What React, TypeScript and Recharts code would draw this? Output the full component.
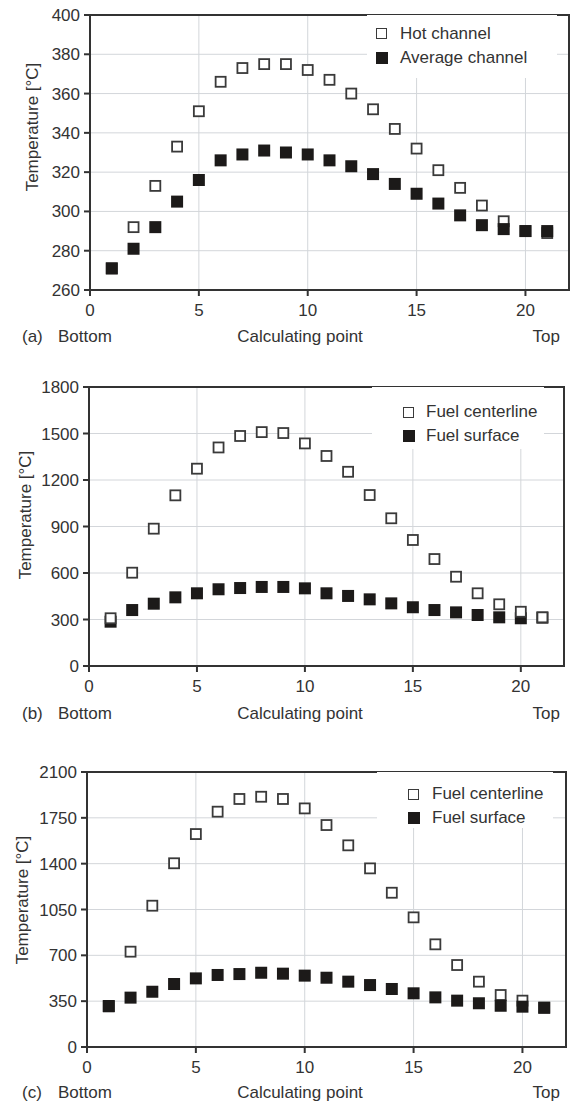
import React from "react";
import {
  ScatterChart, Scatter, XAxis, YAxis, CartesianGrid, ReferenceArea, Legend,
} from "recharts";

const FONT = "'Liberation Sans', Arial, Helvetica, sans-serif";
const INK = "#333";
const GRID = "#d3d6da";

// calculating points along the channel, bottom (1) to top (21)
const calcPoints = [1, 2, 3, 4, 5, 6, 7, 8, 9, 10, 11, 12, 13, 14, 15, 16, 17, 18, 19, 20, 21];
const xTicks = [0, 5, 10, 15, 20];

// (a) coolant temperature
const hotChannel = [271, 292, 313, 333, 351, 366, 373, 375, 375, 372, 367, 360, 352, 342, 332, 321, 312, 303, 295, 290, 289];
const avgChannel = [271, 281, 292, 305, 316, 326, 329, 331, 330, 329, 326, 323, 319, 314, 309, 304, 298, 293, 291, 290, 290];
const ticksA = [260, 280, 300, 320, 340, 360, 380, 400];

// (b) fuel temperature
const centerlineB = [308, 602, 886, 1101, 1273, 1410, 1484, 1509, 1503, 1436, 1355, 1253, 1103, 953, 813, 690, 576, 469, 398, 350, 314];
const surfaceB = [286, 361, 402, 443, 469, 495, 503, 510, 510, 501, 469, 452, 430, 404, 379, 361, 346, 329, 314, 308, 312];
const ticksB = [0, 300, 600, 900, 1200, 1500, 1800];

// (c) fuel temperature
const centerlineC = [310, 728, 1079, 1403, 1626, 1797, 1894, 1911, 1894, 1822, 1695, 1540, 1364, 1178, 990, 784, 626, 499, 397, 354, 300];
const surfaceC = [313, 377, 422, 481, 524, 550, 557, 567, 560, 545, 529, 499, 473, 443, 410, 379, 354, 334, 315, 308, 300];
const ticksC = [0, 350, 700, 1050, 1400, 1750, 2100];

const toRows = (vals: number[]) => calcPoints.map((x, i) => ({ x, y: vals[i] }));

type Series = { name: string; values: number[]; hollow: boolean };

const squareShape = (hollow: boolean) => (props: any) => {
  const s = hollow ? 10 : 12;
  return (
    <rect
      x={props.cx - s / 2}
      y={props.cy - s / 2}
      width={s}
      height={s}
      fill={hollow ? "#fff" : "#1c1a19"}
      stroke={hollow ? "#3a3a3a" : "none"}
      strokeWidth={hollow ? 1.8 : 0}
    />
  );
};

type PanelProps = {
  top: number;
  tag: string;
  series: Series[];      // drawn in this order (later on top)
  legendOrder: number[];
  ticks: number[];
  margin: { top: number; right: number; bottom: number; left: number };
  yWidth: number;
  yLabel: { x: number; y: number };
  legendBox: { left: number; top: number; width: number; height: number; sq: number; txt: number; rows: number[] };
  captionY: number;
};

function Panel(p: PanelProps) {
  const lo = p.ticks[0];
  const hi = p.ticks[p.ticks.length - 1];
  const lb = p.legendBox;

  const legendContent = () => (
    <div style={{ position: "relative", width: lb.width, height: lb.height, background: "#fff" }}>
      {p.legendOrder.map((idx, row) => {
        const s = p.series[idx];
        const size = s.hollow ? 11 : 12;
        return (
          <div key={s.name}>
            <div
              style={{
                position: "absolute",
                left: lb.sq,
                top: lb.rows[row] - size / 2,
                width: s.hollow ? size - 2 : size,
                height: s.hollow ? size - 2 : size,
                border: s.hollow ? "1px solid #3a3a3a" : "none",
                background: s.hollow ? "#fff" : "#1c1a19",
              }}
            />
            <div
              style={{
                position: "absolute",
                left: lb.txt,
                top: lb.rows[row] - 11,
                lineHeight: "22px",
                fontSize: 17,
                fontFamily: FONT,
                color: INK,
                whiteSpace: "nowrap",
              }}
            >
              {s.name}
            </div>
          </div>
        );
      })}
    </div>
  );

  const caption = (text: string, style: React.CSSProperties) => (
    <div
      style={{
        position: "absolute",
        top: p.captionY - 11,
        lineHeight: "22px",
        fontSize: 17,
        fontFamily: FONT,
        color: INK,
        whiteSpace: "nowrap",
        ...style,
      }}
    >
      {text}
    </div>
  );

  return (
    <>
      <div style={{ position: "absolute", left: 0, top: p.top }}>
        <ScatterChart width={572} height={330} margin={p.margin}>
          <CartesianGrid stroke={GRID} strokeWidth={1} />
          <XAxis
            type="number"
            dataKey="x"
            domain={[0, 22]}
            ticks={xTicks}
            allowDataOverflow
            height={30}
            tickSize={6}
            tickMargin={8}
            stroke={INK}
            strokeWidth={2}
            tick={{ fontSize: 17, fill: INK, fontFamily: FONT }}
          />
          <YAxis
            type="number"
            dataKey="y"
            domain={[lo, hi]}
            ticks={p.ticks}
            allowDataOverflow
            width={p.yWidth}
            tickSize={6}
            tickMargin={4}
            stroke={INK}
            strokeWidth={2}
            tick={{ fontSize: 17, fill: INK, fontFamily: FONT }}
            label={{
              content: () => (
                <text
                  transform={`translate(${p.yLabel.x},${p.yLabel.y}) rotate(-90)`}
                  textAnchor="middle"
                  dominantBaseline="central"
                  fontSize={17}
                  fontFamily={FONT}
                  fill={INK}
                >
                  Temperature [°C]
                </text>
              ),
            }}
          />
          <ReferenceArea x1={0} x2={22} y1={lo} y2={hi} fill="none" stroke={INK} strokeWidth={2} />
          {p.series.map((s) => (
            <Scatter
              key={s.name}
              name={s.name}
              data={toRows(s.values)}
              shape={squareShape(s.hollow)}
              isAnimationActive={false}
            />
          ))}
          <Legend
            layout="horizontal"
            verticalAlign="middle"
            align="center"
            content={legendContent}
            wrapperStyle={{ left: lb.left, top: lb.top, width: lb.width, height: lb.height }}
          />
        </ScatterChart>
      </div>
      {caption(p.tag, { left: 22 })}
      {caption("Bottom", { left: 58 })}
      {caption("Calculating point", { left: 300, transform: "translateX(-50%)" })}
      {caption("Top", { right: 12 })}
    </>
  );
}

export default function App() {
  return (
    <div style={{ position: "absolute", left: 0, top: 0, width: 572, height: 1104, background: "#fff" }}>
      <Panel
        top={0}
        tag="(a)"
        series={[
          { name: "Hot channel", values: hotChannel, hollow: true },
          { name: "Average channel", values: avgChannel, hollow: false },
        ]}
        legendOrder={[0, 1]}
        ticks={ticksA}
        margin={{ top: 15, right: 3, bottom: 10, left: 0 }}
        yWidth={90}
        yLabel={{ x: 32, y: 127 }}
        legendBox={{ left: 367, top: 15, width: 190, height: 63, sq: 9, txt: 33, rows: [18.5, 42.5] }}
        captionY={337}
      />
      <Panel
        top={372}
        tag="(b)"
        series={[
          { name: "Fuel surface", values: surfaceB, hollow: false },
          { name: "Fuel centerline", values: centerlineB, hollow: true },
        ]}
        legendOrder={[1, 0]}
        ticks={ticksB}
        margin={{ top: 15, right: 8, bottom: 6, left: 0 }}
        yWidth={89}
        yLabel={{ x: 25, y: 143 }}
        legendBox={{ left: 372, top: 15, width: 172, height: 62, sq: 31, txt: 54, rows: [25, 49] }}
        captionY={714}
      />
      <Panel
        top={757}
        tag="(c)"
        series={[
          { name: "Fuel centerline", values: centerlineC, hollow: true },
          { name: "Fuel surface", values: surfaceC, hollow: false },
        ]}
        legendOrder={[0, 1]}
        ticks={ticksC}
        margin={{ top: 15, right: 6, bottom: 10, left: 0 }}
        yWidth={87}
        yLabel={{ x: 22, y: 143 }}
        legendBox={{ left: 377, top: 15, width: 176, height: 56, sq: 31, txt: 55, rows: [22, 46] }}
        captionY={1093}
      />
    </div>
  );
}
